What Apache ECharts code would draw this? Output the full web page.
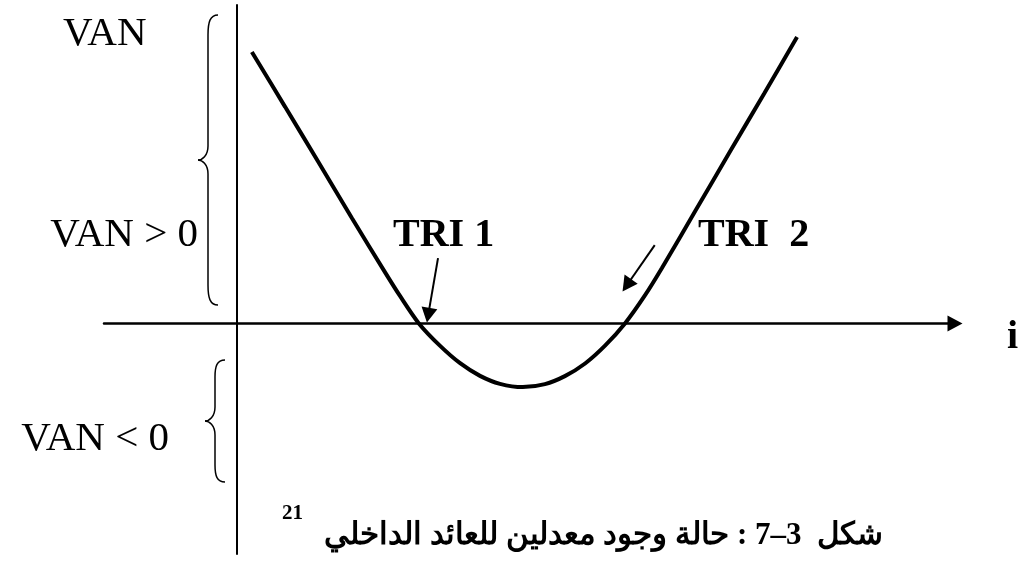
<!DOCTYPE html>
<html>
<head>
<meta charset="utf-8">
<script src="https://cdn.jsdelivr.net/npm/echarts@6/dist/echarts.min.js"></script>
<style>
    html, body { margin: 0; padding: 0; background: #fff; }
    #chart { width: 1025px; height: 568px; }
</style>
</head>
<body>
<div id="chart"></div>
<script>
    // 利率 i
    var rates = [0.56, 1.81, 3.05, 4.32, 5.57, 6.13, 6.84, 7.63, 8.39, 9.14, 9.89, 10.75,
                 11.58, 12.33, 13.09, 13.84, 14.59, 15.34, 15.98, 17.26, 18.54, 19.82, 21.06];
    // VAN
    var vanValues = [9.89, 7.89, 5.9, 3.84, 1.86, 1.0, 0, -0.81, -1.45, -1.91, -2.2, -2.32,
                     -2.21, -1.92, -1.46, -0.81, 0, 1.02, 2.02, 4.14, 6.26, 8.37, 10.43];
    // TRI 箭头: 起点, 终点
    var triArrows = [
        [[7.56, 2.38], [7.19, 0.30]],
        [[15.71, 2.85], [14.66, 1.39]]
    ];
    var xRange = [-5, 27];
    var yRange = [-8.4, 11.6];

    var caption = 'شكل  3–7 : حالة وجود معدلين للعائد الداخلي';
    var footnote = '21';

    var serif = "'Liberation Serif', 'Times New Roman', serif";

    var curve = rates.map(function (r, i) { return [r, vanValues[i]]; });

    function label(text, x, y, size, bold, align) {
        return {
            type: 'text',
            x: x,
            y: y,
            style: {
                text: text,
                font: (bold ? 'bold ' : '') + size + 'px ' + serif,
                fill: '#000',
                align: align || 'left',
                verticalAlign: 'top'
            }
        };
    }

    // 大括号 (曲线 + 直线)
    function brace(xTip, xBody, xEnd, yTop, yMid, yBot, r) {
        var st = { stroke: '#000', fill: null, lineWidth: 1.5 };
        function bz(x1, y1, c1x, c1y, c2x, c2y, x2, y2) {
            return { type: 'bezierCurve', shape: { x1: x1, y1: y1, cpx1: c1x, cpy1: c1y, cpx2: c2x, cpy2: c2y, x2: x2, y2: y2 }, style: st };
        }
        function ln(x1, y1, x2, y2) {
            return { type: 'line', shape: { x1: x1, y1: y1, x2: x2, y2: y2 }, style: st };
        }
        return {
            type: 'group',
            children: [
                bz(xEnd, yTop, xBody + 2, yTop, xBody, yTop + r * 0.35, xBody, yTop + r),
                ln(xBody, yTop + r, xBody, yMid - 14),
                bz(xBody, yMid - 14, xBody, yMid - 4, xTip + 4, yMid, xTip, yMid),
                bz(xTip, yMid, xTip + 4, yMid, xBody, yMid + 4, xBody, yMid + 14),
                ln(xBody, yMid + 14, xBody, yBot - r),
                bz(xBody, yBot - r, xBody, yBot - r * 0.35, xBody + 2, yBot, xEnd, yBot)
            ]
        };
    }

    var chart = echarts.init(document.getElementById('chart'));
    chart.setOption({
        animation: false,
        grid: { left: 104, right: 70, top: 5, bottom: 14 },
        xAxis: {
            type: 'value',
            min: xRange[0],
            max: xRange[1],
            axisLine: {
                onZero: true,
                symbol: ['none', 'triangle'],
                symbolSize: [16, 15],
                lineStyle: { color: '#000', width: 2.5 }
            },
            axisTick: { show: false },
            axisLabel: { show: false },
            splitLine: { show: false }
        },
        yAxis: {
            type: 'value',
            min: yRange[0],
            max: yRange[1],
            axisLine: {
                show: true,
                onZero: true,
                lineStyle: { color: '#000', width: 2 }
            },
            axisTick: { show: false },
            axisLabel: { show: false },
            splitLine: { show: false }
        },
        series: [{
            type: 'line',
            data: curve,
            smooth: 0.3,
            showSymbol: false,
            silent: true,
            lineStyle: { color: '#000', width: 4 },
            markLine: {
                silent: true,
                symbol: ['none', 'triangle'],
                symbolSize: [16, 15],
                label: { show: false },
                lineStyle: { color: '#000', width: 2, type: 'solid' },
                emphasis: { disabled: true },
                data: triArrows.map(function (a) {
                    return [{ coord: a[0] }, { coord: a[1] }];
                })
            }
        }],
        graphic: [
            label('VAN', 63, 14, 41, false),
            label('VAN > 0', 198, 215, 41, false, 'right'),
            label('VAN < 0', 169, 419, 41, false, 'right'),
            label('TRI 1', 393, 216, 40, true),
            label('TRI  2', 698, 216, 40, true),
            label('i', 1007, 318, 40, true),
            label(caption, 883, 520, 31, true, 'right'),
            label(footnote, 282, 503, 21, true),
            brace(198, 208, 218, 15, 160, 305, 20),
            brace(205, 215, 225, 360, 421, 482, 17)
        ]
    });
</script>
</body>
</html>
